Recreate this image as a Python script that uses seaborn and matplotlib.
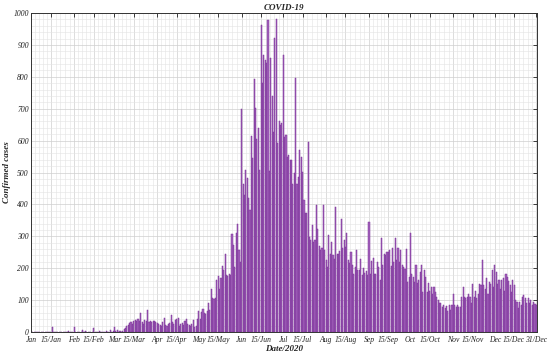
import numpy as np
import pandas as pd
import matplotlib
matplotlib.use("Agg")
import matplotlib.pyplot as plt
import seaborn as sns

# ---- data (daily confirmed cases, 2020) ----
jan = [0, 0, 0, 0, 0, 0, 0, 0, 0, 0, 0, 0, 0, 0, 0, 15, 0, 0, 0, 0, 0, 0, 0, 0, 0, 0, 0, 3, 0, 0, 0]
feb = [15, 0, 0, 0, 0, 0, 7, 0, 2, 0, 0, 0, 0, 0, 13, 0, 0, 0, 3, 0, 0, 0, 0, 2, 0, 0, 5, 0, 3]
mar = [15, 2, 5, 0, 3, 0, 2, 8, 12, 20, 22, 28, 32, 25, 35, 38, 36, 40, 33, 60, 30, 25, 38, 35, 69,
       30, 33, 32, 35, 34, 30]
apr = [28, 25, 22, 20, 30, 45, 22, 20, 25, 28, 52, 30, 25, 38, 42, 45, 20, 25, 27, 22, 35, 40, 25, 22,
       20, 25, 38, 15, 20, 42]
may = [65, 41, 62, 72, 60, 55, 65, 92, 70, 135, 108, 103, 106, 162, 176, 135, 168, 207, 195, 243,
       178, 175, 181, 179, 306, 273, 205, 311, 339, 257, 218]
jun = [700, 465, 430, 509, 483, 420, 383, 616, 545, 793, 703, 605, 640, 507, 961, 782, 869, 852,
       843, 978, 506, 859, 739, 628, 922, 980, 593, 660, 650, 654]
jul = [868, 612, 618, 550, 555, 540, 539, 465, 497, 795, 465, 485, 571, 550, 503, 415, 373, 373,
       596, 299, 288, 335, 283, 288, 398, 322, 269, 257, 262, 398, 257]
aug = [226, 205, 304, 246, 283, 241, 230, 391, 246, 246, 254, 353, 262, 288, 267, 309, 226, 215,
       251, 210, 183, 205, 257, 194, 194, 230, 179, 200, 185, 190, 179]
sep = [346, 183, 222, 231, 183, 183, 221, 205, 163, 294, 210, 246, 241, 251, 251, 257, 207, 262,
       221, 294, 226, 262, 221, 257, 210, 205, 199, 260, 158, 174]
oct_ = [309, 183, 172, 158, 210, 153, 163, 188, 210, 125, 194, 172, 125, 153, 130, 141, 119, 141,
        125, 110, 100, 90, 90, 79, 85, 74, 82, 67, 85, 69, 85]
nov = [119, 85, 79, 85, 79, 79, 111, 141, 111, 106, 111, 119, 111, 90, 152, 111, 130, 106, 120,
       152, 147, 226, 147, 136, 168, 119, 158, 150, 194, 140]
dec = [210, 188, 150, 163, 136, 163, 168, 130, 183, 172, 160, 147, 125, 163, 147, 100, 95, 74,
       95, 85, 111, 116, 106, 90, 106, 90, 100, 85, 95, 88, 85]

tick_days = [0, 14, 31, 45, 60, 74, 91, 105, 121, 135, 152, 166, 182, 196, 213, 227, 244, 258,
             274, 288, 305, 319, 335, 349, 365]
tick_labels = ["Jan", "15/Jan", "Feb", "15/Feb", "Mar", "15/Mar", "Apr", "15/Apr", "May", "15/May",
               "Jun", "15/Jun", "Jul", "15/Jul", "Aug", "15/Aug", "Sep", "15/Sep", "Oct", "15/Oct",
               "Nov", "15/Nov", "Dec", "15/Dec", "31/Dec"]

cases = jan + feb + mar + apr + may + jun + jul + aug + sep + oct_ + nov + dec
days = list(range(len(cases)))
df = pd.DataFrame({"day": days, "cases": cases})

# ---- style ----
sns.set_theme(style="white")
plt.rcParams["font.family"] = ["Liberation Serif", "DejaVu Serif"]

fig = plt.figure(figsize=(5.5, 3.52), dpi=100)
ax = fig.add_axes([0.0564, 0.0568, 0.9196, 0.9062])

sns.barplot(data=df, x="day", y="cases", native_scale=True, color="#a462bd",
            edgecolor="#7a3296", linewidth=0.35, width=0.8, saturation=1, ax=ax)

ax.set_xlim(-0.3, 365.3)
ax.set_ylim(0, 1000)

ax.xaxis.set_major_locator(matplotlib.ticker.FixedLocator(tick_days))
ax.xaxis.set_major_formatter(matplotlib.ticker.FixedFormatter(tick_labels))
minor_x = []
for a, b in zip(tick_days[:-1], tick_days[1:]):
    minor_x.extend(list(np.linspace(a, b, 6)[1:-1]))
ax.xaxis.set_minor_locator(matplotlib.ticker.FixedLocator(minor_x))
ax.yaxis.set_major_locator(matplotlib.ticker.MultipleLocator(100))
ax.yaxis.set_minor_locator(matplotlib.ticker.MultipleLocator(20))

ax.grid(which="major", color="#cfcfcf", linewidth=0.5)
ax.grid(which="minor", color="#e3e3e3", linewidth=0.4)
ax.set_axisbelow(True)

ax.tick_params(which="major", direction="in", length=3, width=0.6, top=True, right=True,
               labelsize=5.5, colors="#222222")
ax.tick_params(axis="x", which="major", pad=3)
ax.tick_params(axis="y", which="major", pad=1.5)
ax.tick_params(which="minor", length=0)
for lab in ax.get_xticklabels() + ax.get_yticklabels():
    lab.set_fontstyle("italic")

for s in ax.spines.values():
    s.set_color("#333333")
    s.set_linewidth(0.7)

ax.set_xlabel("Date/2020", fontsize=6.5, fontstyle="italic", fontweight="bold", labelpad=0.5)
ax.set_ylabel("Confirmed cases", fontsize=6.5, fontstyle="italic", fontweight="bold", labelpad=2)
ax.set_title("COVID-19", fontsize=6.5, fontstyle="italic", fontweight="bold", pad=2)

fig.savefig("out.png", dpi=100)
